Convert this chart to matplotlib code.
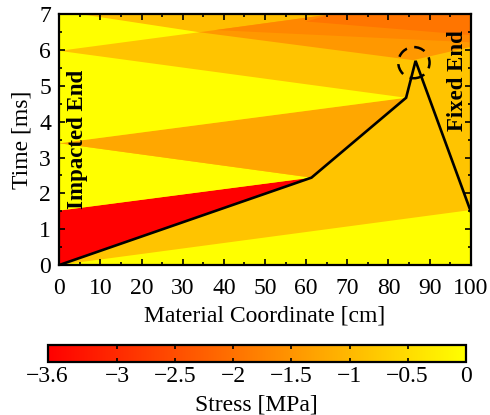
import matplotlib
matplotlib.use("Agg")
import matplotlib.pyplot as plt
from matplotlib.colors import Normalize
from matplotlib.patches import Ellipse
from matplotlib.ticker import MultipleLocator

plt.rcParams['font.family'] = ['Liberation Serif', 'DejaVu Serif']
plt.rcParams['font.size'] = 17

# stress regions between wave fronts: corner points (cm, ms) and stress (MPa)
region_x = [
    [0, 100, 100, 0],
    [0, 100, 100],
    [0, 61.3, 0],
    [0, 61.3, 0],
    [0, 61.3, 84.3],
    [0, 84.3, 0],
    [5.4, 34, 66],
    [0, 0, 5.4, 34],
    [34, 66, 100, 100, 86],
    [38, 66, 100, 100],
    [60, 66, 100, 100],
]
region_t = [
    [0, 0, 7, 7],
    [0, 0, 1.53],
    [0, 2.44, 1.52],
    [1.52, 2.44, 3.40],
    [3.40, 2.44, 4.67],
    [3.40, 4.67, 5.98],
    [7, 6.5, 7],
    [5.98, 7, 7, 6.5],
    [6.5, 7, 7, 6.09, 5.72],
    [6.56, 7, 7, 6.22],
    [6.8, 7, 7, 6.42],
]
region_stress = [-0.83, 0, -3.6, 0, -1.25, 0, -0.92, 0, -1.45, -1.7, -1.95]

# plastic front path
path_x = [0, 61.3, 84.3, 86.6, 100]
path_t = [0, 2.44, 4.67, 5.70, 1.50]

cbar_ticks = [-3.6, -3, -2.5, -2, -1.5, -1, -0.5, 0]
cbar_labels = ['\u22123.6', '\u22123', '\u22122.5', '\u22122', '\u22121.5', '\u22121', '\u22120.5', '0']

cmap = plt.get_cmap('autumn')
norm = Normalize(vmin=-3.6, vmax=0)

fig = plt.figure(figsize=(4.9, 4.15), dpi=100)
ax = fig.add_axes([0.121, 0.3614, 0.8396, 0.6041])

for xs, ts, s in zip(region_x, region_t, region_stress):
    ax.fill(xs, ts, color=cmap(norm(s)), lw=0, antialiased=True)

ax.plot(path_x, path_t, color='black', lw=1.9, solid_joinstyle='miter')
ax.add_patch(Ellipse((86.2, 5.65), 7.6, 0.87, fill=False, ec='black', lw=1.8,
                     linestyle=(0, (4.5, 3))))

ax.text(1.8, 3.5, 'Impacted End', rotation=90, fontweight='bold', fontsize=16.5,
        ha='left', va='center')
ax.text(99.4, 5.15, 'Fixed End', rotation=90, fontweight='bold', fontsize=16.5,
        ha='right', va='center')

ax.set_xlim(0, 100)
ax.set_ylim(0, 7)
ax.xaxis.set_major_locator(MultipleLocator(10))
ax.xaxis.set_minor_locator(MultipleLocator(5))
ax.yaxis.set_major_locator(MultipleLocator(1))
ax.yaxis.set_minor_locator(MultipleLocator(0.5))
ax.tick_params(which='both', direction='in', top=True, right=True, width=1.2)
ax.tick_params(axis='x', which='both', pad=9)
ax.tick_params(axis='y', which='both', pad=6)
ax.tick_params(which='major', length=4.5)
ax.tick_params(which='minor', length=2.5)
for sp in ax.spines.values():
    sp.set_linewidth(1.6)
ax.set_xlabel('Material Coordinate [cm]', labelpad=5)
ax.set_ylabel('Time [ms]', labelpad=5)

cax = fig.add_axes([0.0973, 0.127, 0.853, 0.0417])
sm = plt.cm.ScalarMappable(norm=norm, cmap=cmap)
cb = fig.colorbar(sm, cax=cax, orientation='horizontal')
cb.set_ticks(cbar_ticks)
cb.set_ticklabels(cbar_labels)
cb.outline.set_linewidth(1.6)
cax.tick_params(direction='in', top=True, length=3, width=1.2, pad=3)
cb.set_label('Stress [MPa]', labelpad=5)

fig.savefig('out.png', dpi=100)
